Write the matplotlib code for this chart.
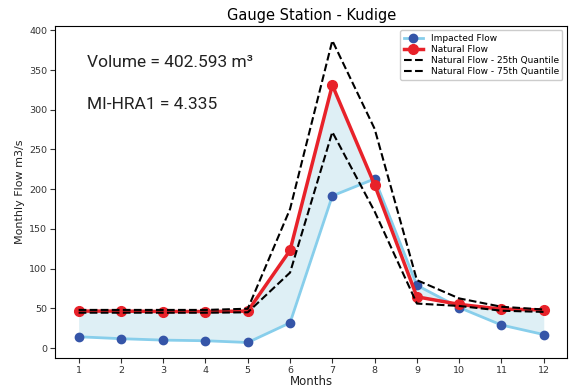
import matplotlib
matplotlib.use("Agg")
import matplotlib.pyplot as plt

months = [1, 2, 3, 4, 5, 6, 7, 8, 9, 10, 11, 12]
impacted_flow = [14.2, 11.8, 10.0, 9.2, 7.0, 31.8, 191.6, 213.0, 79.0, 51.0, 29.0, 17.0]
natural_flow = [46.5, 46.5, 46.0, 46.0, 46.5, 123.0, 331.0, 205.5, 64.5, 55.0, 49.0, 48.0]
q25_flow = [44.5, 44.5, 44.5, 44.5, 45.0, 95.0, 272.0, 172.0, 56.0, 53.0, 47.0, 45.5]
q75_flow = [48.0, 48.0, 48.0, 48.0, 49.5, 175.0, 387.0, 276.0, 85.5, 62.5, 52.0, 48.5]

volume_text = "Volume = 402.593 m³"
hra_text = "MI-HRA1 = 4.335"

fig, ax = plt.subplots(figsize=(5.71, 3.87), dpi=100)
fig.subplots_adjust(left=0.097, right=0.993, top=0.934, bottom=0.076)

ax.fill_between(months, impacted_flow, natural_flow, color="lightblue", alpha=0.4, linewidth=0)
ax.plot(months, impacted_flow, color="skyblue", linewidth=2, marker="o", markersize=6,
        markerfacecolor="#3555a8", markeredgecolor="#3555a8", label="Impacted Flow")
ax.plot(months, natural_flow, color="#e8222a", linewidth=2.5, marker="o", markersize=7,
        markerfacecolor="#e8222a", markeredgecolor="#e8222a", label="Natural Flow")
ax.plot(months, q25_flow, color="black", linestyle="--", linewidth=1.5, label="Natural Flow - 25th Quantile")
ax.plot(months, q75_flow, color="black", linestyle="--", linewidth=1.5, label="Natural Flow - 75th Quantile")

ax.set_xticks(months)
ax.tick_params(labelsize=6.8, colors="#333333", pad=2.5)
ax.set_xlabel("Months", fontsize=8.5, labelpad=0, color="#222222")
ax.set_ylabel("Monthly Flow m3/s", fontsize=8, labelpad=3, color="#222222")
ax.set_title("Gauge Station - Kudige", fontsize=10.5, pad=4)

ax.text(1.2, 360, volume_text, fontsize=12.5, family="Roboto", va="center", color="#222222")
ax.text(1.2, 307, hra_text, fontsize=12.5, family="Roboto", va="center", color="#222222")

ax.legend(loc="upper right", fontsize=6.5, framealpha=1, borderpad=0.4, labelspacing=0.25,
          handlelength=2.2)

fig.savefig("out.png", dpi=100)
